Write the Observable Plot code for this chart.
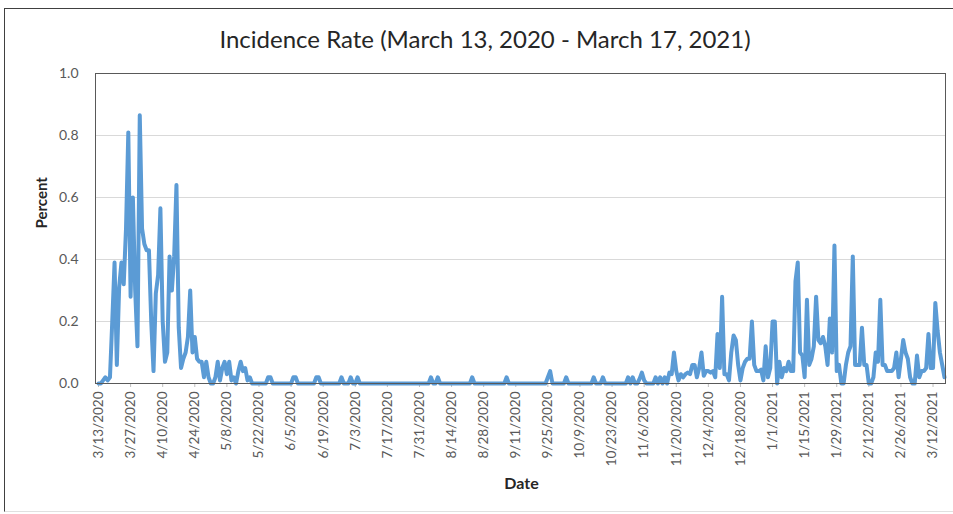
<!DOCTYPE html>
<html><head><meta charset="utf-8">
<script src="https://cdn.jsdelivr.net/npm/d3@7"></script>
<script src="https://cdn.jsdelivr.net/npm/@observablehq/plot@0.6"></script>
<style>
body{margin:0;background:#fff;font-family:Lato,"Open Sans",sans-serif;}
#wrap{position:relative;width:953px;height:514px;overflow:hidden;background:#fff}
#border{position:absolute;left:4px;top:8px;width:960px;height:502px;border-left:1px solid #404040;border-top:1px solid #404040;border-bottom:1px solid #e0e0e0;}
#title{position:absolute;left:0;width:970px;top:25px;text-align:center;font-size:24px;color:#262626;line-height:28px}
#chart{position:absolute;left:0;top:60px}
</style></head>
<body><div id="wrap"><div id="border"></div><div id="title">Incidence Rate (March 13, 2020 - March 17, 2021)</div><div id="chart"></div></div>
<script>
const startLabel = "3/13/2020";
const incidence = [
0,0,0.01,0.02,0.01,0.02,0.2,0.39,0.06,0.31,
0.39,0.32,0.5,0.81,0.28,0.6,0.3,0.12,0.865,0.5,
0.45,0.43,0.43,0.2,0.04,0.29,0.35,0.565,0.2,0.07,
0.1,0.41,0.3,0.41,0.64,0.18,0.05,0.08,0.1,0.15,
0.3,0.1,0.15,0.08,0.07,0.07,0.02,0.07,0.02,0,
0,0.02,0.07,0.01,0.05,0.07,0.03,0.07,0.01,0.02,
0,0.04,0.07,0.04,0.05,0.01,0.02,0,0,0,
0,0,0,0,0.02,0.02,0,0,0,0,
0,0,0,0,0,0.02,0.02,0,0,0,
0,0,0,0,0,0.02,0.02,0,0,0,
0,0,0,0,0,0,0.02,0,0,0,
0.02,0,0,0.02,0,0,0,0,0,0,
0,0,0,0,0,0,0,0,0,0,
0,0,0,0,0,0,0,0,0,0,
0,0,0,0,0,0.02,0,0,0.02,0,
0,0,0,0,0,0,0,0,0,0,
0,0,0,0.02,0,0,0,0,0,0,
0,0,0,0,0,0,0,0,0.02,0,
0,0,0,0,0,0,0,0,0,0,
0,0,0,0,0,0,0.02,0.04,0,0,
0,0,0,0,0.02,0,0,0,0,0,
0,0,0,0,0,0,0.02,0,0,0,
0.02,0,0,0,0,0,0,0,0,0,
0,0.02,0,0.02,0,0,0.015,0.035,0.01,0,
0,0,0,0.02,0,0.02,0,0.02,0,0.035,
0.03,0.1,0.04,0.01,0.03,0.02,0.03,0.035,0.03,0.06,
0.06,0.02,0.05,0.1,0.025,0.04,0.04,0.035,0.04,0.02,
0.16,0.05,0.28,0.03,0.03,0.01,0.1,0.155,0.14,0.06,
0.01,0.05,0.07,0.08,0.08,0.2,0.06,0.04,0.04,0.045,
0.01,0.12,0.02,0.05,0.2,0.2,0,0.07,0.02,0.05,
0.04,0.07,0.04,0.04,0.33,0.39,0.1,0.09,0.02,0.27,
0.06,0.08,0.12,0.28,0.14,0.13,0.15,0.12,0.06,0.21,
0.1,0.445,0.04,0.06,0,0,0.06,0.1,0.12,0.41,
0.06,0.06,0.06,0.18,0.06,0.06,0,0,0.02,0.1,
0.07,0.27,0.06,0.06,0.04,0.04,0.04,0.05,0.1,0.02,
0.08,0.14,0.1,0.08,0.02,0,0,0.09,0.02,0.04,
0.04,0.05,0.16,0.05,0.05,0.26,0.17,0.1,0.06,0.02
];
const tickLabels = ["3/13/2020","3/27/2020","4/10/2020","4/24/2020","5/8/2020","5/22/2020","6/5/2020","6/19/2020","7/3/2020","7/17/2020","7/31/2020","8/14/2020","8/28/2020","9/11/2020","9/25/2020","10/9/2020","10/23/2020","11/6/2020","11/20/2020","12/4/2020","12/18/2020","1/1/2021","1/15/2021","1/29/2021","2/12/2021","2/26/2021","3/12/2021"];
const yTicks = [0,0.2,0.4,0.6,0.8,1.0];

const parse = d3.utcParse("%m/%d/%Y");
const start = parse(startLabel);
const data = incidence.map((v,i)=>({date:d3.utcDay.offset(start,i), value:v}));
const xTicks = tickLabels.map(parse);

const chart = Plot.plot({
  width:953, height:454,
  marginLeft:98, marginRight:9, marginTop:13, marginBottom:131,
  style:{fontFamily:"Lato, sans-serif", fontSize:"13px", color:"#595959", background:"transparent", overflow:"visible"},
  x:{type:"utc", domain:[start, d3.utcDay.offset(start, incidence.length-1)]},
  y:{domain:[0,1]},
  marks:[
    Plot.gridY(yTicks, {stroke:"#d9d9d9", strokeOpacity:1, insetLeft:-3, insetRight:-1}),
    Plot.axisY(yTicks, {tickSize:0, tickPadding:20, tickFormat:d=>d.toFixed(1), label:null, fontSize:14}),
    Plot.axisX(xTicks, {tickRotate:-90, tickFormat:d3.utcFormat("%-m/%-d/%Y"), tickSize:4, tickPadding:4, label:null, stroke:"#bfbfbf", fontSize:13.5}),
    Plot.line(data, {x:"date", y:"value", stroke:"#5B9BD5", strokeWidth:4, strokeLinejoin:"round", strokeLinecap:"round"}),
    Plot.frame({stroke:"#595959", insetLeft:-3, insetRight:-1}),
    Plot.text(["Percent"], {frameAnchor:"left", dx:-56, rotate:-90, fontWeight:"bold", fontSize:15, fill:"#262626"}),
    Plot.text(["Date"], {frameAnchor:"bottom", dy:105, fontWeight:"bold", fontSize:16, fill:"#262626"})
  ]
});
document.getElementById("chart").appendChild(chart);
</script>
</body></html>
